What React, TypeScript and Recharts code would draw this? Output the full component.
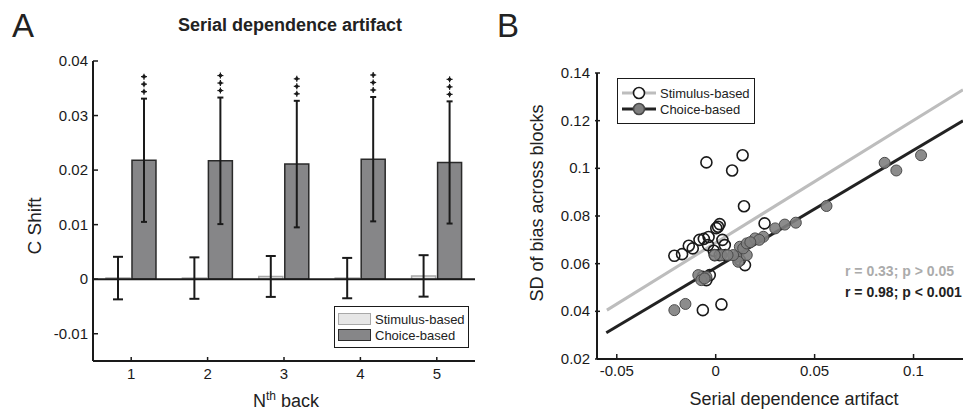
import React from "react";
import {
  BarChart,
  Bar,
  ErrorBar,
  LabelList,
  ScatterChart,
  Scatter,
  XAxis,
  YAxis,
  ReferenceLine,
  Legend,
} from "recharts";

// panel A: C shift per n-th back trial
const lags = ["1", "2", "3", "4", "5"];
const stimShift = [0.0002, 0.0002, 0.0005, 0.0002, 0.0006];
const stimErr = [0.0039, 0.0038, 0.00375, 0.0037, 0.0038];
const choiceShift = [0.0218, 0.0217, 0.0211, 0.022, 0.0214];
const choiceErr = [0.0113, 0.0116, 0.0116, 0.0114, 0.0112];
const barTicks = [-0.01, 0, 0.01, 0.02, 0.03, 0.04];
const seriesNames = ["Stimulus-based", "Choice-based"];

// panel B: SD of bias vs serial dependence artifact
const stimPoints = [
  { x: -0.0047, y: 0.1025 }, { x: 0.0083, y: 0.0991 }, { x: 0.0136, y: 0.1055 },
  { x: 0.0143, y: 0.0841 }, { x: 0.0247, y: 0.0769 }, { x: -0.0065, y: 0.0405 },
  { x: 0.0029, y: 0.0429 }, { x: -0.0209, y: 0.0633 }, { x: -0.017, y: 0.064 },
  { x: -0.0136, y: 0.0675 }, { x: -0.0116, y: 0.0664 }, { x: -0.0082, y: 0.07 },
  { x: -0.006, y: 0.0704 }, { x: -0.0036, y: 0.0712 }, { x: 0.0003, y: 0.0749 },
  { x: 0.002, y: 0.0766 }, { x: 0.0034, y: 0.07 }, { x: 0.0046, y: 0.0678 },
  { x: -0.001, y: 0.0654 }, { x: -0.0005, y: 0.0636 }, { x: 0.002, y: 0.0636 },
  { x: 0.005, y: 0.0636 }, { x: 0.0148, y: 0.0594 }, { x: 0.0122, y: 0.0615 },
  { x: -0.003, y: 0.0552 }, { x: -0.0047, y: 0.0531 }, { x: -0.0066, y: 0.0545 },
  { x: -0.0039, y: 0.0678 }, { x: 0.0012, y: 0.0755 },
];
const choicePoints = [
  { x: -0.0209, y: 0.0405 }, { x: -0.0153, y: 0.0431 }, { x: -0.0088, y: 0.0552 },
  { x: -0.0047, y: 0.0545 }, { x: -0.0073, y: 0.0531 }, { x: -0.0056, y: 0.0538 },
  { x: 0.0122, y: 0.0671 }, { x: 0.0105, y: 0.0629 }, { x: 0.0157, y: 0.0636 },
  { x: 0.0139, y: 0.0664 }, { x: 0.0114, y: 0.0608 }, { x: 0.0157, y: 0.0685 },
  { x: 0.0088, y: 0.0636 }, { x: 0.0199, y: 0.0706 }, { x: 0.0241, y: 0.0713 },
  { x: 0.022, y: 0.07 }, { x: 0.0301, y: 0.0748 }, { x: 0.0349, y: 0.0764 },
  { x: 0.0405, y: 0.0772 }, { x: 0.056, y: 0.0842 }, { x: 0.0854, y: 0.1023 },
  { x: 0.0913, y: 0.0991 }, { x: 0.1038, y: 0.1055 }, { x: 0.0029, y: 0.0636 },
  { x: -0.0005, y: 0.0636 }, { x: 0.006, y: 0.0636 }, { x: 0.0175, y: 0.069 },
];
// fitted lines (end points)
const stimFit = [{ x: -0.055, y: 0.0405 }, { x: 0.125, y: 0.133 }];
const choiceFit = [{ x: -0.0553, y: 0.031 }, { x: 0.125, y: 0.12 }];
const sdTicksX = [-0.05, 0, 0.05, 0.1];
const sdTicksY = [0.02, 0.04, 0.06, 0.08, 0.1, 0.12, 0.14];

const barData = lags.map((n, i) => ({
  n,
  stim: stimShift[i],
  stimErr: stimErr[i],
  choice: choiceShift[i],
  choiceErr: choiceErr[i],
}));

const FONT = '"Liberation Sans", Arial, Helvetica, sans-serif';
const INK = "#1a1a1a";

const byName = (items: any[]) =>
  items
    .filter((it) => seriesNames.includes(it.value))
    .sort((a, b) => seriesNames.indexOf(a.value) - seriesNames.indexOf(b.value));

const YTick = (props: any) => {
  const { x, y, payload } = props;
  return (
    <g>
      <line x1={x + 5} x2={x + 10} y1={y} y2={y} stroke={INK} strokeWidth={1.5} />
      <text x={x} y={y} dy={5} textAnchor="end" fontSize={15} fill={INK} fontFamily={FONT}>
        {String(payload.value)}
      </text>
    </g>
  );
};

const XTick = (props: any) => {
  const { x, y, payload } = props;
  return (
    <g>
      <line x1={x} x2={x} y1={y - 6} y2={y - 11} stroke={INK} strokeWidth={1.5} />
      <text x={x} y={y} dy="0.75em" textAnchor="middle" fontSize={15} fill={INK} fontFamily={FONT}>
        {String(payload.value)}
      </text>
    </g>
  );
};

// three significance stars above each choice error bar
const Stars = (props: any) => {
  const vb = props.viewBox ?? props;
  const { x, y, width, height } = vb;
  const i = props.index;
  const v = choiceShift[i];
  if (!v || !height) return null;
  const top = y - choiceErr[i] * (height / v);
  const cx = x + width / 2;
  return (
    <g>
      {[7, 14.5, 22].map((d) => (
        <g key={d} stroke={INK} strokeWidth={1.2}>
          <line x1={cx - 3} x2={cx + 3} y1={top - d} y2={top - d} />
          <line x1={cx} x2={cx} y1={top - d - 3} y2={top - d + 3} />
          <circle cx={cx} cy={top - d} r={1.2} fill={INK} />
        </g>
      ))}
    </g>
  );
};

const barStyles: Record<string, { fill: string; stroke: string }> = {
  "Stimulus-based": { fill: "#e6e6e6", stroke: "#a8a8a8" },
  "Choice-based": { fill: "#868688", stroke: "#2a2a2a" },
};

const BarLegend = (props: any) => {
  const items = byName(props.payload || []);
  return (
    <div
      style={{
        border: `1.5px solid ${INK}`,
        background: "#fff",
        boxSizing: "border-box",
        padding: "4px 3px",
        fontFamily: FONT,
        fontSize: 13,
        color: "#222",
      }}
    >
      {items.map((it: any) => {
        const s = barStyles[it.value];
        return (
          <div key={it.value} style={{ display: "flex", alignItems: "center", height: 16 }}>
            <div
              style={{
                width: 31,
                height: 10,
                background: s.fill,
                border: `1.5px solid ${s.stroke}`,
                marginRight: 4,
              }}
            />
            {it.value}
          </div>
        );
      })}
    </div>
  );
};

const pointStyles: Record<string, { line: string; fill: string; stroke: string }> = {
  "Stimulus-based": { line: "#bdbdbd", fill: "#fff", stroke: INK },
  "Choice-based": { line: "#222", fill: "#7f7f7f", stroke: "#4a4a4a" },
};

const SdLegend = (props: any) => {
  const items = byName(props.payload || []);
  return (
    <div
      style={{
        border: `1.5px solid ${INK}`,
        background: "#fff",
        boxSizing: "border-box",
        padding: "6px 3px",
        fontFamily: FONT,
        fontSize: 13,
        color: "#222",
      }}
    >
      {items.map((it: any) => {
        const s = pointStyles[it.value];
        return (
          <div key={it.value} style={{ display: "flex", alignItems: "center", height: 16 }}>
            <svg width={36} height={16} style={{ marginRight: 3 }}>
              <line x1={1} x2={35} y1={8} y2={8} stroke={s.line} strokeWidth={3} />
              <circle cx={18} cy={8} r={5.5} fill={s.fill} stroke={s.stroke} strokeWidth={1.6} />
            </svg>
            {it.value}
          </div>
        );
      })}
    </div>
  );
};

const OpenDot = (p: any) => (
  <circle cx={p.cx} cy={p.cy} r={5.5} fill="none" stroke={INK} strokeWidth={1.6} />
);
const FilledDot = (p: any) => (
  <circle cx={p.cx} cy={p.cy} r={5.5} fill="#7f7f7f" fillOpacity={0.9} stroke="#4a4a4a" strokeWidth={1} />
);
const NoDot = () => <g />;

export default function App() {
  return (
    <div
      style={{
        position: "absolute",
        left: 0,
        top: 0,
        width: 964,
        height: 413,
        background: "#fff",
        fontFamily: FONT,
        overflow: "hidden",
      }}
    >
      <div style={{ position: "absolute", left: 0, top: 0 }}>
        <BarChart
          width={490}
          height={413}
          data={barData}
          margin={{ top: 61, right: 15, bottom: 22, left: 0 }}
          barCategoryGap="17%"
          barGap={2}
        >
          <XAxis
            dataKey="n"
            height={30}
            axisLine={{ stroke: INK, strokeWidth: 2 }}
            tickLine={false}
            tickSize={0}
            tickMargin={7}
            tick={<XTick />}
          />
          <YAxis
            width={93}
            domain={[-0.015, 0.04]}
            ticks={barTicks}
            allowDataOverflow
            axisLine={{ stroke: INK, strokeWidth: 2 }}
            tickLine={false}
            tickSize={0}
            tickMargin={5}
            tick={<YTick />}
          />
          <ReferenceLine y={0} stroke={INK} strokeWidth={2} />
          <Bar
            dataKey="stim"
            name={seriesNames[0]}
            fill="#e6e6e6"
            stroke="#a8a8a8"
            strokeWidth={1.5}
            isAnimationActive={false}
          >
            <ErrorBar dataKey="stimErr" width={5} stroke={INK} strokeWidth={2} direction="y" />
          </Bar>
          <Bar
            dataKey="choice"
            name={seriesNames[1]}
            fill="#868688"
            stroke="#2a2a2a"
            strokeWidth={1.5}
            isAnimationActive={false}
          >
            <ErrorBar dataKey="choiceErr" width={3} stroke={INK} strokeWidth={2} direction="y" />
            <LabelList dataKey="choice" content={<Stars />} />
          </Bar>
          <Legend
            layout="horizontal"
            verticalAlign="middle"
            align="center"
            content={<BarLegend />}
            wrapperStyle={{ left: 334, top: 306, width: 135, height: 41 }}
          />
        </BarChart>
      </div>

      <div style={{ position: "absolute", left: 490, top: 0 }}>
        <ScatterChart width={474} height={413} margin={{ top: 73, right: 1, bottom: 24, left: 0 }}>
          <XAxis
            type="number"
            dataKey="x"
            domain={[-0.06, 0.125]}
            ticks={sdTicksX}
            allowDataOverflow
            height={30}
            axisLine={{ stroke: INK, strokeWidth: 2 }}
            tickLine={false}
            tickSize={0}
            tickMargin={6}
            tick={<XTick />}
          />
          <YAxis
            type="number"
            dataKey="y"
            domain={[0.02, 0.14]}
            ticks={sdTicksY}
            allowDataOverflow
            width={107}
            axisLine={{ stroke: INK, strokeWidth: 2 }}
            tickLine={false}
            tickSize={0}
            tickMargin={7}
            tick={<YTick />}
          />
          <Scatter
            name="stim fit"
            data={stimFit}
            line={{ stroke: "#bdbdbd", strokeWidth: 3 }}
            shape={<NoDot />}
            legendType="none"
            isAnimationActive={false}
          />
          <Scatter
            name="choice fit"
            data={choiceFit}
            line={{ stroke: "#222", strokeWidth: 3 }}
            shape={<NoDot />}
            legendType="none"
            isAnimationActive={false}
          />
          <Scatter name={seriesNames[0]} data={stimPoints} shape={<OpenDot />} isAnimationActive={false} />
          <Scatter name={seriesNames[1]} data={choicePoints} shape={<FilledDot />} isAnimationActive={false} />
          <Legend
            layout="horizontal"
            verticalAlign="middle"
            align="center"
            content={<SdLegend />}
            wrapperStyle={{ left: 127, top: 78, width: 138, height: 46 }}
          />
        </ScatterChart>
      </div>

      <svg
        width={964}
        height={413}
        style={{ position: "absolute", left: 0, top: 0, pointerEvents: "none" }}
        fontFamily={FONT}
      >
        <text x={12} y={37} fontSize={33} fill="#222">A</text>
        <text x={497} y={37} fontSize={33} fill="#222">B</text>
        <text x={290} y={31} fontSize={18} fontWeight="bold" textAnchor="middle" fill="#222">
          Serial dependence artifact
        </text>
        <text transform="translate(41,226) rotate(-90)" fontSize={19} textAnchor="middle" fill="#222">
          C Shift
        </text>
        <text x={286} y={407} fontSize={18} textAnchor="middle" fill="#222">
          N<tspan dy={-7} fontSize={12}>th</tspan>
          <tspan dy={7}> back</tspan>
        </text>
        <text x={794} y={405} fontSize={18} textAnchor="middle" fill="#222">
          Serial dependence artifact
        </text>
        <text transform="translate(543,203) rotate(-90)" fontSize={18} textAnchor="middle" fill="#222">
          SD of bias across blocks
        </text>
        <text x={845} y={276} fontSize={14} fontWeight="bold" fill="#ababab">
          r = 0.33; p &gt; 0.05
        </text>
        <text x={845} y={297} fontSize={14} fontWeight="bold" fill="#222">
          r = 0.98; p &lt; 0.001
        </text>
      </svg>
    </div>
  );
}
